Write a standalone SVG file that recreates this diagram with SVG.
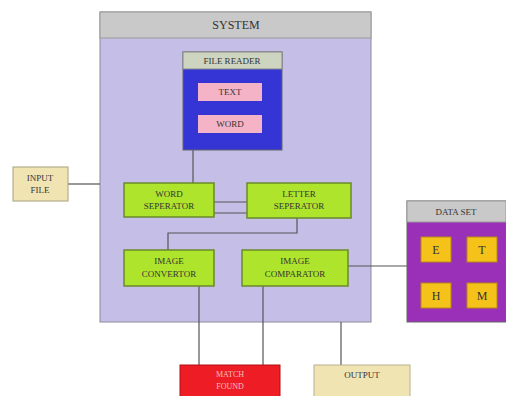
<svg xmlns="http://www.w3.org/2000/svg" width="506" height="396" viewBox="0 0 506 396">
<style>
text{font-family:"Liberation Serif",serif;font-size:9px;fill:#333;text-anchor:middle}
.g{fill:#aee42c;stroke:#6a8a2a;stroke-width:1.5}
.ln{stroke:#555;stroke-width:1.2;fill:none}
.hdr{fill:#c9c9c9;stroke:#999}
.lt{fill:#f4b3c6}
.y{fill:#f5c21a;stroke:#b58a10}
</style>
<rect width="506" height="396" fill="#fff"/>
<g id="system">
<rect x="100" y="12" width="271" height="310" fill="#c5bfe8" stroke="#8a8a9a"/>
<rect x="100" y="12" width="271" height="26" class="hdr"/>
<text x="236" y="29" style="font-size:12px">SYSTEM</text>
</g>
<g id="connectors">
<path class="ln" d="M193 150V183"/>
<path class="ln" d="M68 184H100"/>
<path class="ln" d="M214 202H247M214 213H247"/>
<path class="ln" d="M297 218V233H168V250"/>
<path class="ln" d="M348 266H407"/>
<path class="ln" d="M199 286V365M263 286V365"/>
<path class="ln" d="M341 322V365"/>
</g>
<g id="file-reader">
<rect x="183" y="52" width="99" height="98" fill="#3535d6" stroke="#666"/>
<rect x="183" y="52" width="99" height="17" fill="#cdd4c0" stroke="#888"/>
<text x="232" y="64">FILE READER</text>
<rect x="198" y="83" width="64" height="18" class="lt"/>
<text x="230" y="95">TEXT</text>
<rect x="198" y="115" width="64" height="18" class="lt"/>
<text x="230" y="127">WORD</text>
</g>
<g id="input-file">
<rect x="13" y="167" width="55" height="34" fill="#f1e4b3" stroke="#a8a080"/>
<text x="40" y="181">INPUT</text>
<text x="40" y="193">FILE</text>
</g>
<g id="word-separator">
<rect x="124" y="183" width="90" height="34" class="g"/>
<text x="169" y="197">WORD</text>
<text x="169" y="209">SEPERATOR</text>
</g>
<g id="letter-separator">
<rect x="247" y="183" width="104" height="35" class="g"/>
<text x="299" y="197">LETTER</text>
<text x="299" y="209">SEPERATOR</text>
</g>
<g id="image-convertor">
<rect x="124" y="250" width="90" height="36" class="g"/>
<text x="169" y="264">IMAGE</text>
<text x="169" y="277">CONVERTOR</text>
</g>
<g id="image-comparator">
<rect x="242" y="250" width="106" height="36" class="g"/>
<text x="295" y="264">IMAGE</text>
<text x="295" y="277">COMPARATOR</text>
</g>
<g id="data-set">
<rect x="407" y="201" width="99" height="121" fill="#9a2fb8" stroke="#666"/>
<rect x="407" y="201" width="99" height="21" class="hdr"/>
<text x="456" y="215">DATA SET</text>
<rect x="421" y="237" width="30" height="25" class="y"/>
<text x="436" y="254" style="font-size:12px">E</text>
<rect x="467" y="237" width="30" height="25" class="y"/>
<text x="482" y="254" style="font-size:12px">T</text>
<rect x="421" y="283" width="30" height="25" class="y"/>
<text x="436" y="300" style="font-size:12px">H</text>
<rect x="467" y="283" width="30" height="25" class="y"/>
<text x="482" y="300" style="font-size:12px">M</text>
</g>
<g id="result">
<rect x="180" y="365" width="100" height="35" fill="#ee1c24" stroke="#b01010"/>
<text x="230" y="377" style="fill:#f5c0c0;font-size:8px">MATCH</text>
<text x="230" y="389" style="fill:#f5c0c0;font-size:8px">FOUND</text>
</g>
<g id="output">
<rect x="314" y="365" width="96" height="35" fill="#f1e4b3" stroke="#b8b090"/>
<text x="362" y="378">OUTPUT</text>
</g>
</svg>
